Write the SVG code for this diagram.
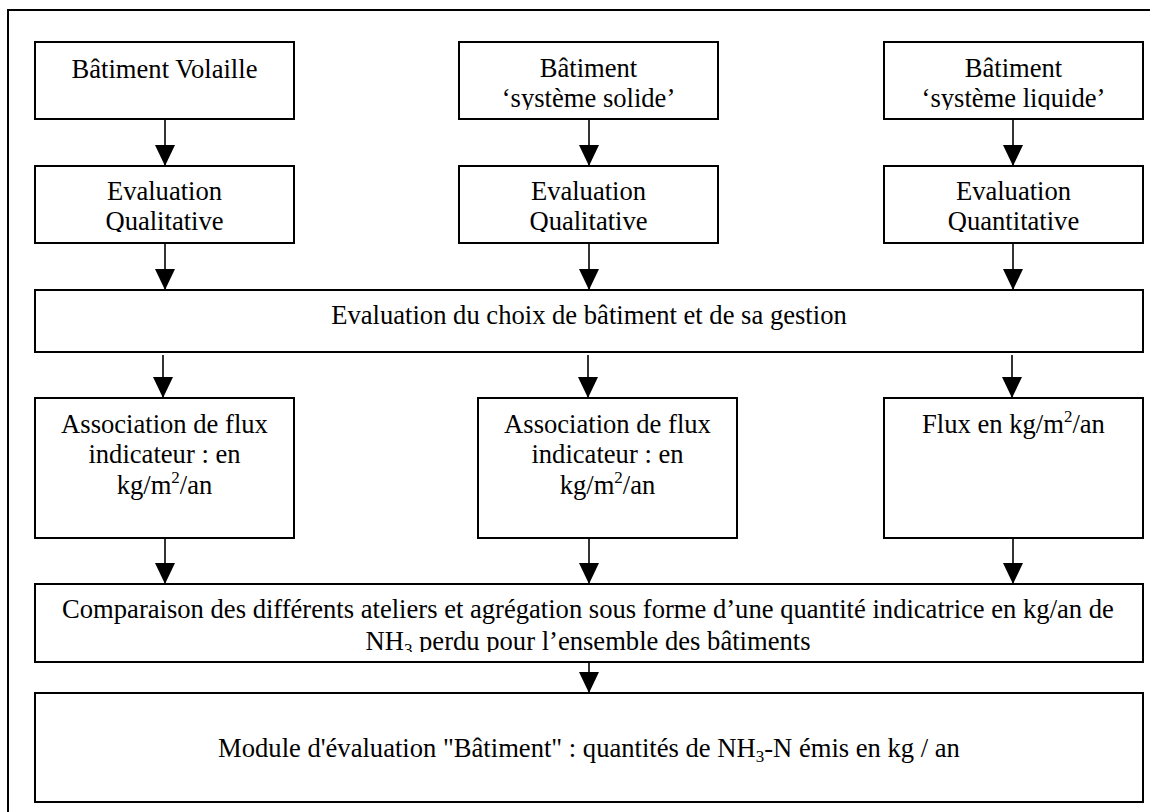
<svg xmlns="http://www.w3.org/2000/svg" width="1150" height="812" viewBox="0 0 1150 812">
<style>
.box{fill:#fff;stroke:#000;stroke-width:2}
.frame{fill:none;stroke:#000;stroke-width:2}
.t{font-family:"Liberation Serif","Times New Roman",serif;font-size:26.6px;fill:#000;text-anchor:middle}
.c{stroke:#000;stroke-width:1.6;fill:none;marker-end:url(#ah)}
.sm{font-size:17px}
</style>
<defs>
<marker id="ah" markerUnits="userSpaceOnUse" markerWidth="21" markerHeight="20" refX="21" refY="10" orient="auto">
<path d="M0,0 L21,10 L0,20 z" fill="#000"/>
</marker>
<clipPath id="clipR1"><rect x="0" y="0" width="1150" height="110"/></clipPath>
<clipPath id="clipR2"><rect x="0" y="0" width="1150" height="232"/></clipPath>
<clipPath id="clipR5"><rect x="0" y="0" width="1150" height="652"/></clipPath>
</defs>
<rect class="frame" x="8" y="10" width="1160" height="820"/>

<g id="n1">
<rect class="box" x="35" y="42" width="259" height="77"/>
<text class="t" x="164.5" y="78">Bâtiment Volaille</text>
</g>
<g id="n2">
<rect class="box" x="459" y="42" width="259" height="77"/>
<g clip-path="url(#clipR1)">
<text class="t" x="588.5" y="77">Bâtiment</text>
<text class="t" x="588.5" y="107">‘système solide’</text>
</g>
</g>
<g id="n3">
<rect class="box" x="884" y="42" width="259" height="77"/>
<g clip-path="url(#clipR1)">
<text class="t" x="1013.5" y="77">Bâtiment</text>
<text class="t" x="1013.5" y="107">‘système liquide’</text>
</g>
</g>

<g id="n4">
<rect class="box" x="35" y="166" width="259" height="77"/>
<g clip-path="url(#clipR2)">
<text class="t" x="164.5" y="200">Evaluation</text>
<text class="t" x="164.5" y="230">Qualitative</text>
</g>
</g>
<g id="n5">
<rect class="box" x="459" y="166" width="259" height="77"/>
<g clip-path="url(#clipR2)">
<text class="t" x="588.5" y="200">Evaluation</text>
<text class="t" x="588.5" y="230">Qualitative</text>
</g>
</g>
<g id="n6">
<rect class="box" x="884" y="166" width="259" height="77"/>
<g clip-path="url(#clipR2)">
<text class="t" x="1013.5" y="200">Evaluation</text>
<text class="t" x="1013.5" y="230">Quantitative</text>
</g>
</g>

<g id="n7">
<rect class="box" x="35" y="290" width="1108" height="62"/>
<text class="t" x="589" y="324">Evaluation du choix de bâtiment et de sa gestion</text>
</g>

<g id="n8">
<rect class="box" x="35" y="398" width="259" height="140"/>
<text class="t" x="164.5" y="433">Association de flux</text>
<text class="t" x="164.5" y="463">indicateur : en</text>
<text class="t" x="164.5" y="494">kg/m<tspan class="sm" dy="-11">2</tspan><tspan dy="11">/an</tspan></text>
</g>
<g id="n9">
<rect class="box" x="478" y="398" width="259" height="140"/>
<text class="t" x="607.5" y="433">Association de flux</text>
<text class="t" x="607.5" y="463">indicateur : en</text>
<text class="t" x="607.5" y="494">kg/m<tspan class="sm" dy="-11">2</tspan><tspan dy="11">/an</tspan></text>
</g>
<g id="n10">
<rect class="box" x="884" y="398" width="259" height="140"/>
<text class="t" x="1013.5" y="433">Flux en kg/m<tspan class="sm" dy="-11">2</tspan><tspan dy="11">/an</tspan></text>
</g>

<g id="n11">
<rect class="box" x="35" y="584" width="1108" height="78"/>
<text class="t" x="588" y="618">Comparaison des différents ateliers et agrégation sous forme d’une quantité indicatrice en kg/an de</text>
<g clip-path="url(#clipR5)">
<text class="t" x="588" y="650">NH<tspan class="sm" dy="5">3</tspan><tspan dy="-5"> perdu pour l’ensemble des bâtiments</tspan></text>
</g>
</g>

<g id="n12">
<rect class="box" x="35" y="693" width="1108" height="109"/>
<text class="t" x="589" y="757">Module d'évaluation "Bâtiment" : quantités de NH<tspan class="sm" dy="5">3</tspan><tspan dy="-5">-N émis en kg / an</tspan></text>
</g>

<g id="connectors">
<line class="c" x1="165" y1="119" x2="165" y2="166"/>
<line class="c" x1="589" y1="119" x2="589" y2="166"/>
<line class="c" x1="1013" y1="119" x2="1013" y2="166"/>
<line class="c" x1="165" y1="243" x2="165" y2="290"/>
<line class="c" x1="589" y1="243" x2="589" y2="290"/>
<line class="c" x1="1013" y1="243" x2="1013" y2="290"/>
<line class="c" x1="163" y1="355" x2="163" y2="398"/>
<line class="c" x1="588" y1="355" x2="588" y2="398"/>
<line class="c" x1="1012" y1="355" x2="1012" y2="398"/>
<line class="c" x1="165" y1="538" x2="165" y2="584"/>
<line class="c" x1="589" y1="538" x2="589" y2="584"/>
<line class="c" x1="1013" y1="538" x2="1013" y2="584"/>
<line class="c" x1="589" y1="662" x2="589" y2="693"/>
</g>
</svg>
